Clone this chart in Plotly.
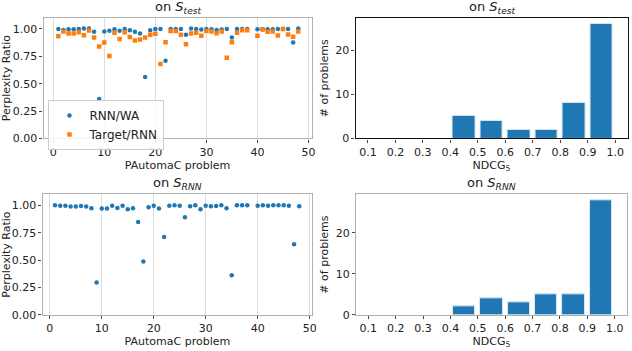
import plotly.graph_objects as go

# ---- data ----
problems_test = [1, 2, 3, 4, 5, 6, 7, 8, 9, 10, 11, 12, 13, 14, 15, 16, 17, 18, 19, 20, 21, 22, 23, 24,
                 25, 26, 27, 28, 29, 30, 31, 32, 33, 34, 35, 36, 37, 38, 40, 41, 42, 43, 44, 45, 46, 47, 48]
rnn_wa_test = [1.00, 0.99, 0.997, 0.997, 1.00, 1.003, 1.003, 0.973, 0.361, 0.976, 0.982, 0.997, 0.982, 1.00,
               0.988, 0.973, 0.958, 0.561, 0.988, 1.00, 1.00, 0.71, 1.00, 1.00, 1.00, 0.946, 1.003, 1.00,
               0.994, 1.00, 0.997, 0.991, 0.994, 1.00, 0.922, 1.00, 1.00, 1.00, 0.997, 0.997, 0.997, 0.997,
               1.00, 1.00, 1.00, 0.875, 1.003]
target_rnn_test = [0.934, 0.976, 0.958, 0.958, 0.97, 0.943, 0.985, 0.922, 0.839, 0.875, 0.752, 0.964, 0.907,
                   0.97, 0.925, 0.893, 0.904, 0.922, 0.946, 0.955, 0.68, 0.878, 0.98, 0.98, 0.946, 0.86,
                   0.958, 0.964, 0.937, 0.98, 0.976, 0.961, 0.976, 0.737, 0.878, 0.964, 0.988, 0.988,
                   0.937, 0.994, 0.973, 0.976, 0.94, 1.00, 0.949, 0.928, 0.976]

problems_rnn = problems_test
rnn_wa_rnn = [1.00, 0.997, 0.997, 0.988, 0.988, 0.994, 0.988, 0.973, 0.296, 0.97, 0.97, 0.997, 0.976, 0.997,
              0.964, 0.973, 0.848, 0.487, 0.982, 0.997, 0.97, 0.71, 0.997, 1.00, 0.997, 0.89, 0.991, 1.00,
              0.964, 0.997, 0.991, 0.994, 1.00, 0.973, 0.361, 1.00, 1.00, 1.00, 0.997, 1.00, 0.997, 1.00,
              1.00, 1.00, 0.997, 0.645, 0.991]

ndcg_bins = [0.15, 0.25, 0.35, 0.45, 0.55, 0.65, 0.75, 0.85, 0.95]
ndcg_ticks = [0.1, 0.2, 0.3, 0.4, 0.5, 0.6, 0.7, 0.8, 0.9, 1.0]
hist_test = [0, 0, 0, 5, 4, 2, 2, 8, 26]
hist_rnn = [0, 0, 0, 2, 4, 3, 5, 5, 28]

BLUE = "#1f77b4"
ORANGE = "#ff7f0e"
FONT = "DejaVu Sans"
W, H = 632, 351

fig = go.Figure()

def edge_widths(vals):
    return [0 if v == 0 else 1 for v in vals]

fig.add_trace(go.Scatter(x=problems_test, y=rnn_wa_test, mode="markers", name="RNN/WA",
                         marker=dict(color=BLUE, size=4.5, symbol="circle"), xaxis="x", yaxis="y"))
fig.add_trace(go.Scatter(x=problems_test, y=target_rnn_test, mode="markers", name="Target/RNN",
                         marker=dict(color=ORANGE, size=4.5, symbol="square"), xaxis="x", yaxis="y"))
fig.add_trace(go.Bar(x=ndcg_bins, y=hist_test, width=0.082,
                     marker=dict(color=BLUE, line=dict(color="#d8e8f4", width=edge_widths(hist_test))),
                     showlegend=False, xaxis="x2", yaxis="y2"))
fig.add_trace(go.Scatter(x=problems_rnn, y=rnn_wa_rnn, mode="markers", showlegend=False,
                         marker=dict(color=BLUE, size=4.5, symbol="circle"), xaxis="x3", yaxis="y3"))
fig.add_trace(go.Bar(x=ndcg_bins, y=hist_rnn, width=0.082,
                     marker=dict(color=BLUE, line=dict(color="#d8e8f4", width=edge_widths(hist_rnn))),
                     showlegend=False, xaxis="x4", yaxis="y4"))

def px_x(a, b):
    return [a / W, b / W]

def px_y(top, bottom):
    return [1 - bottom / H, 1 - top / H]

tickfont = dict(family=FONT, size=11, color="#222")
titlefont = dict(family=FONT, size=11, color="#222")

def xax(domain, anchor, rng, tickvals, ticktext, title, grid, linecolor):
    return dict(domain=domain, anchor=anchor, range=rng, tickmode="array", tickvals=tickvals,
                ticktext=ticktext, showgrid=grid, gridcolor="#dcdcdc", gridwidth=1, zeroline=False,
                showline=True, mirror=True, linecolor=linecolor, linewidth=1.2,
                ticks="outside", ticklen=3, tickcolor="#444", tickfont=tickfont,
                title=dict(text=title, font=titlefont, standoff=2))

def yax(domain, anchor, rng, tickvals, ticktext, title, linecolor):
    return dict(domain=domain, anchor=anchor, range=rng, tickmode="array", tickvals=tickvals,
                ticktext=ticktext, showgrid=False, zeroline=False,
                showline=True, mirror=True, linecolor=linecolor, linewidth=1.2,
                ticks="outside", ticklen=3, tickcolor="#444", tickfont=tickfont,
                title=dict(text=title, font=titlefont, standoff=4))

yt = [0, 0.25, 0.5, 0.75, 1.0]
ytt = ["0.00", "0.25", "0.50", "0.75", "1.00"]
xt = [0, 10, 20, 30, 40, 50]

fig.update_layout(
    width=W, height=H, margin=dict(l=0, r=0, t=0, b=0),
    paper_bgcolor="white", plot_bgcolor="white",
    font=dict(family=FONT, color="#222"),
    xaxis=xax(px_x(41, 312), "y", [-1.9, 50.6], xt, [str(v) for v in xt], "PAutomaC problem", True, "#b0b0b0"),
    yaxis=yax(px_y(18.3, 141.3), "x", [0, 1.1], yt, ytt, "Perplexity Ratio", "#b0b0b0"),
    xaxis2=xax(px_x(356.5, 631.5), "y2", [0.055, 1.045], ndcg_ticks, [f"{v:.1f}" for v in ndcg_ticks],
               "NDCG<sub>5</sub>", False, "#111"),
    yaxis2=yax(px_y(18.3, 141.3), "x2", [0, 27.3], [0, 10, 20], ["0", "10", "20"], "# of problems", "#111"),
    xaxis3=xax(px_x(40, 312.7), "y3", [-1.4, 50.5], xt, [str(v) for v in xt], "PAutomaC problem", True, "#b0b0b0"),
    yaxis3=yax(px_y(198.3, 321.3), "x3", [0, 1.1], yt, ytt, "Perplexity Ratio", "#b0b0b0"),
    xaxis4=xax(px_x(357, 631), "y4", [0.055, 1.045], ndcg_ticks, [f"{v:.1f}" for v in ndcg_ticks],
               "NDCG<sub>5</sub>", False, "#b0b0b0"),
    yaxis4=yax(px_y(198.3, 321.3), "x4", [0, 29.4], [0, 10, 20], ["0", "10", "20"], "# of problems", "#b0b0b0"),
    legend=dict(x=46 / W, y=1 - 102 / H, xanchor="left", yanchor="top",
                bgcolor="rgba(255,255,255,0.85)", bordercolor="#cccccc", borderwidth=1,
                font=dict(family=FONT, size=12, color="#222"), itemsizing="trace",
                tracegroupgap=0, itemwidth=30),
    bargap=0,
)

titles = [
    ((41 + 312) / 2, 18.3, "on <i>S</i><sub><i>test</i></sub>"),
    ((356.5 + 631.5) / 2, 18.3, "on <i>S</i><sub><i>test</i></sub>"),
    ((40 + 312.7) / 2, 198.3, "on <i>S</i><sub><i>RNN</i></sub>"),
    ((357 + 631) / 2, 198.3, "on <i>S</i><sub><i>RNN</i></sub>"),
]
for cx, top, txt in titles:
    fig.add_annotation(x=cx / W, y=1 - top / H, xref="paper", yref="paper", text=txt, showarrow=False,
                       xanchor="center", yanchor="bottom", yshift=0,
                       font=dict(family=FONT, size=13, color="#222"))

fig.write_html("out.html")
